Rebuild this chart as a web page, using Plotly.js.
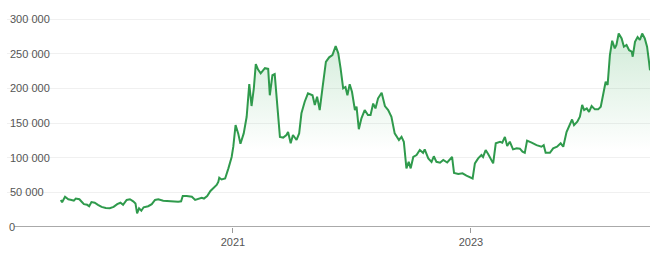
<!DOCTYPE html>
<html>
<head>
<meta charset="utf-8">
<script src="https://cdn.plot.ly/plotly-3.0.1.min.js"></script>
<style>
  html, body { margin: 0; padding: 0; background: #ffffff; }
  #chart { width: 650px; height: 253px; }
</style>
</head>
<body>
<div id="chart"></div>
<script>
const dates = [
  '2019-07-23','2019-07-27','2019-08-05','2019-08-15','2019-08-25','2019-09-01','2019-09-07','2019-09-18','2019-09-25','2019-10-02','2019-10-12','2019-10-18','2019-10-25','2019-11-04','2019-11-14','2019-11-25','2019-12-08','2019-12-20',
  '2020-01-01','2020-01-12','2020-01-22','2020-01-30','2020-02-10','2020-02-20','2020-03-01','2020-03-08','2020-03-13','2020-03-19','2020-03-26','2020-04-02','2020-04-16','2020-04-27','2020-05-07','2020-05-17','2020-06-01','2020-06-17','2020-07-02','2020-07-17','2020-07-26','2020-07-31','2020-08-12','2020-08-28','2020-09-07','2020-09-17','2020-09-27','2020-10-04','2020-10-14','2020-10-24','2020-11-01','2020-11-12','2020-11-17','2020-11-20','2020-11-27','2020-12-08','2020-12-18','2020-12-28',
  '2021-01-02','2021-01-09','2021-01-17','2021-01-24','2021-02-03','2021-02-12','2021-02-20','2021-02-27','2021-03-06','2021-03-12','2021-03-19','2021-03-27','2021-04-09','2021-04-19','2021-04-24','2021-05-02','2021-05-09','2021-05-16','2021-05-25','2021-06-04','2021-06-14','2021-06-19','2021-06-27','2021-07-04','2021-07-15','2021-07-23','2021-07-30','2021-08-09','2021-08-19','2021-09-02','2021-09-09','2021-09-16','2021-09-24','2021-10-03','2021-10-13','2021-10-23','2021-11-02','2021-11-12','2021-11-20','2021-11-27','2021-12-05','2021-12-12','2021-12-18','2021-12-25',
  '2022-01-01','2022-01-10','2022-01-15','2022-01-22','2022-01-30','2022-02-09','2022-02-19','2022-02-27','2022-03-07','2022-03-14','2022-03-22','2022-04-02','2022-04-12','2022-04-22','2022-05-02','2022-05-12','2022-05-25','2022-06-02','2022-06-09','2022-06-17','2022-06-24','2022-06-30','2022-07-08','2022-07-18','2022-07-28','2022-08-07','2022-08-12','2022-08-23','2022-09-02','2022-09-09','2022-09-17','2022-09-28','2022-10-08','2022-10-20','2022-10-28','2022-11-04','2022-11-10','2022-11-23','2022-12-06','2022-12-18',
  '2023-01-06','2023-01-13','2023-01-23','2023-02-02','2023-02-07','2023-02-15','2023-02-23','2023-03-03','2023-03-10','2023-03-18','2023-03-31','2023-04-07','2023-04-15','2023-04-22','2023-04-30','2023-05-10','2023-05-21','2023-05-31','2023-06-08','2023-06-15','2023-06-22','2023-07-06','2023-07-21','2023-08-05','2023-08-12','2023-08-18','2023-08-31','2023-09-10','2023-09-22','2023-10-03','2023-10-11','2023-10-21','2023-10-29','2023-11-07','2023-11-13','2023-11-23','2023-12-01','2023-12-08','2023-12-14','2023-12-22','2023-12-29',
  '2024-01-06','2024-01-16','2024-01-26','2024-02-03','2024-02-10','2024-02-18','2024-02-24','2024-03-02','2024-03-09','2024-03-17','2024-03-22','2024-03-29','2024-04-07','2024-04-14','2024-04-22','2024-04-30','2024-05-08','2024-05-11','2024-05-18','2024-05-26','2024-06-02','2024-06-09','2024-06-17','2024-06-24','2024-06-30','2024-07-03'
];

const values = [
  39000,35600,43700,40000,39000,37900,41000,40000,36500,33000,32000,30000,36000,35000,32000,29000,27400,27000,
  29000,33000,35000,32000,39000,40000,37000,34000,19700,27000,23500,28400,30000,33000,39000,40000,38000,37500,36000,36500,37000,44700,44700,43700,39000,41000,42000,41000,44700,52000,56000,60600,65000,71000,68600,70000,84600,101000,
  115800,147000,135000,120000,135000,159000,206000,174500,200000,235000,227000,221600,229000,228000,190000,219000,220600,183000,130000,129000,132700,137000,120700,132700,125500,135000,164000,180700,192800,190000,176000,188000,168700,202000,238000,244700,248000,261000,250500,229000,200000,202000,190000,206000,
  195000,168700,173500,141000,156700,168700,161500,161500,178000,171000,185600,193700,174500,168700,159000,135000,125500,130000,123000,84600,94000,84600,101000,103800,111000,107000,112000,99000,94000,102000,94000,92700,96600,93000,97600,101000,78000,76400,77400,74000,
  70000,91800,99000,103800,101000,111000,105000,99000,91800,120700,123000,121600,130000,116800,123000,112000,113500,113000,108600,107000,124500,121600,118000,115800,118000,107000,107000,113500,115800,120700,115800,137000,145600,155000,147000,152000,159000,176000,168700,171000,166000,
  174500,169700,169700,173500,190000,209500,204800,248000,268600,257700,262500,279000,272000,260000,262500,255000,252800,245600,267000,274000,269700,279000,272000,260000,238000,226000
];

const yTicks = [0, 50000, 100000, 150000, 200000, 250000, 300000];
const xTicks = ['2021-01-01', '2023-01-01'];
const xTickLabels = ['2021', '2023'];

const lineColor = '#2f9a4c';
const labelColor = '#555555';
const fontFamily = 'Arial, "Liberation Sans", sans-serif';

const trace = {
  type: 'scatter',
  mode: 'lines',
  x: dates,
  y: values,
  line: { color: lineColor, width: 2 },
  fill: 'tozeroy',
  fillgradient: {
    type: 'vertical',
    start: 110000,
    stop: 290000,
    colorscale: [[0, 'rgba(52,168,83,0)'], [1, 'rgba(52,168,83,0.24)']]
  },
  hoverinfo: 'skip'
};

const layout = {
  width: 650,
  height: 253,
  margin: { l: 7, r: 0, t: 0, b: 26 },
  paper_bgcolor: '#ffffff',
  plot_bgcolor: '#ffffff',
  showlegend: false,
  separators: ', ',
  font: { family: fontFamily, size: 11, color: labelColor },
  xaxis: {
    type: 'date',
    range: ['2019-02-08', '2024-07-03'],
    tickvals: xTicks,
    ticktext: xTickLabels,
    ticks: 'outside',
    ticklen: 5,
    tickwidth: 1,
    tickcolor: '#999999',
    showgrid: false,
    showline: false,
    zeroline: false,
    tickfont: { family: fontFamily, size: 11, color: labelColor }
  },
  yaxis: {
    range: [0, 327400],
    tickvals: yTicks,
    tickformat: ',d',
    ticklabelposition: 'inside',
    ticks: '',
    showgrid: true,
    gridcolor: '#f0f0f0',
    gridwidth: 1,
    showline: false,
    zeroline: false,
    tickfont: { family: fontFamily, size: 11, color: labelColor }
  },
  annotations: [{
    // the bottom (0) tick label, which Plotly drops for inside labels at the axis edge
    xref: 'paper', yref: 'y',
    x: 0, y: yTicks[0],
    xanchor: 'left', yanchor: 'middle',
    xshift: 0,
    text: String(yTicks[0]),
    showarrow: false,
    font: { family: fontFamily, size: 11, color: labelColor }
  }],
  shapes: [{
    type: 'line',
    xref: 'paper', yref: 'y',
    x0: 0.011, x1: 1, y0: 0, y1: 0,
    line: { color: '#aaaaaa', width: 2 },
    layer: 'above'
  }]
};

Plotly.newPlot('chart', [trace], layout, { staticPlot: true, displayModeBar: false });
</script>
</body>
</html>
